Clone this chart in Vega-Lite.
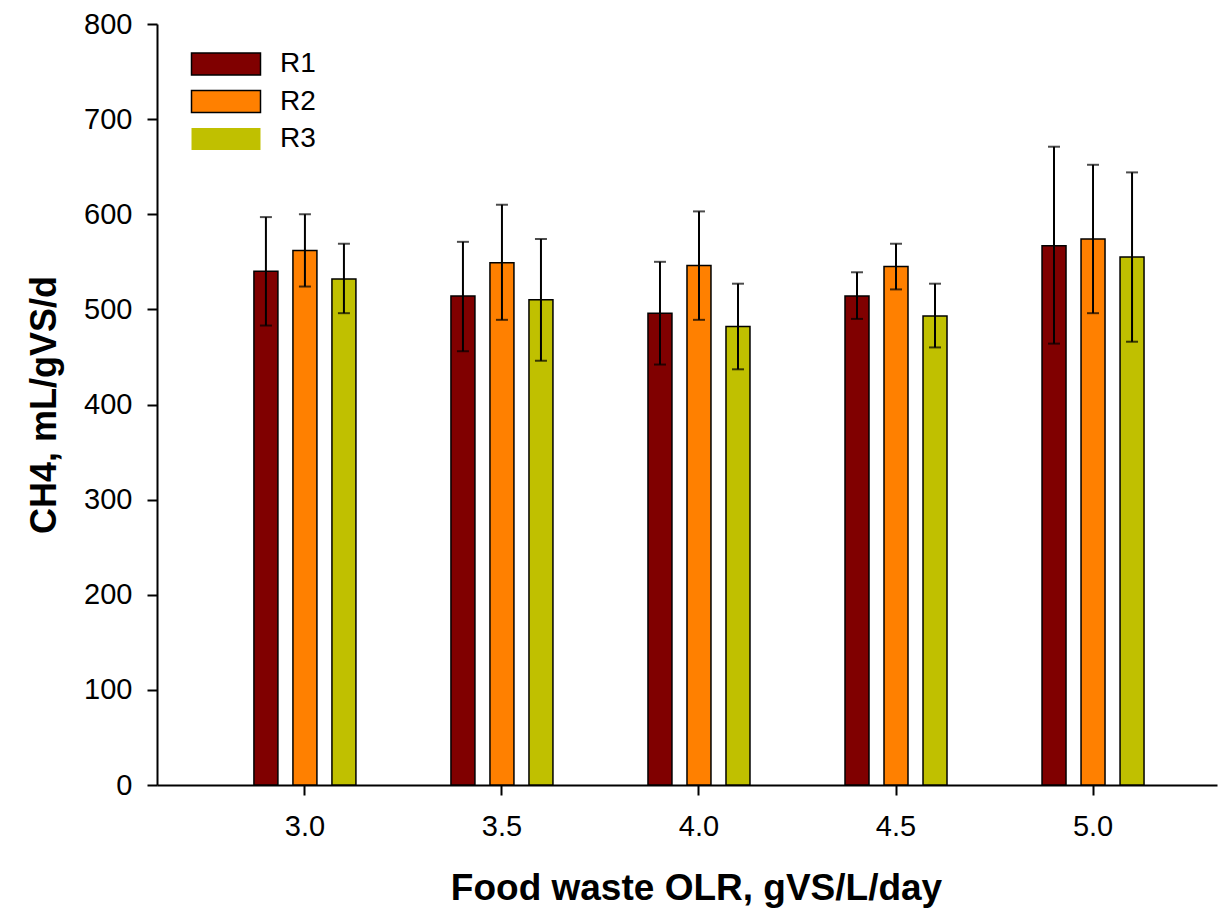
{
  "$schema": "https://vega.github.io/schema/vega-lite/v6.json",
  "width": 1060,
  "height": 761,
  "autosize": "none",
  "padding": {"left": 157, "top": 24, "right": 9, "bottom": 125},
  "background": "white",
  "config": {
    "view": {"stroke": null},
    "font": "Liberation Sans",
    "axis": {"grid": false, "domainColor": "black", "tickColor": "black", "labelColor": "black", "titleColor": "black", "labelFont": "Liberation Sans", "titleFont": "Liberation Sans"}
  },
  "data": {
    "values": [
      {"olr": "3.0", "reactor": "R1", "mean": 540, "lo": 483, "hi": 597},
      {"olr": "3.0", "reactor": "R2", "mean": 562, "lo": 524, "hi": 600},
      {"olr": "3.0", "reactor": "R3", "mean": 532, "lo": 496, "hi": 569},
      {"olr": "3.5", "reactor": "R1", "mean": 514, "lo": 456, "hi": 571},
      {"olr": "3.5", "reactor": "R2", "mean": 549, "lo": 489, "hi": 610},
      {"olr": "3.5", "reactor": "R3", "mean": 510, "lo": 446, "hi": 574},
      {"olr": "4.0", "reactor": "R1", "mean": 496, "lo": 442, "hi": 550},
      {"olr": "4.0", "reactor": "R2", "mean": 546, "lo": 489, "hi": 603},
      {"olr": "4.0", "reactor": "R3", "mean": 482, "lo": 437, "hi": 527},
      {"olr": "4.5", "reactor": "R1", "mean": 514, "lo": 490, "hi": 539},
      {"olr": "4.5", "reactor": "R2", "mean": 545, "lo": 521, "hi": 569},
      {"olr": "4.5", "reactor": "R3", "mean": 493, "lo": 460, "hi": 527},
      {"olr": "5.0", "reactor": "R1", "mean": 567, "lo": 464, "hi": 671},
      {"olr": "5.0", "reactor": "R2", "mean": 574, "lo": 496, "hi": 652},
      {"olr": "5.0", "reactor": "R3", "mean": 555, "lo": 466, "hi": 644}
    ]
  },
  "encoding": {
    "x": {
      "field": "olr", "type": "nominal",
      "scale": {"paddingInner": 0, "paddingOuter": 0.19, "align": 0.66},
      "axis": {
        "title": "Food waste OLR, gVS/L/day", "labelAngle": 0,
        "labelFontSize": 29, "titleFontSize": 37, "titleFontWeight": "bold",
        "titleX": 539, "titleAlign": "center",
        "tickSize": 10, "tickWidth": 2, "domainWidth": 2, "labelPadding": 17, "titlePadding": 29
      }
    },
    "xOffset": {
      "field": "reactor", "type": "nominal",
      "scale": {"domain": ["p0", "R1", "R2", "R3", "p4"], "paddingInner": 0.385, "paddingOuter": 0.218}
    }
  },
  "layer": [
    {
      "mark": {"type": "bar", "stroke": "black", "strokeWidth": 1.5},
      "encoding": {
        "y": {
          "field": "mean", "type": "quantitative",
          "scale": {"domain": [0, 800], "nice": false},
          "axis": {
            "title": "CH4, mL/gVS/d", "values": [0, 100, 200, 300, 400, 500, 600, 700, 800],
            "labelFontSize": 29, "titleFontSize": 36, "titleFontWeight": "bold",
            "tickSize": 10, "tickWidth": 2, "domainWidth": 2, "labelPadding": 15, "titlePadding": 20
          }
        },
        "color": {
          "field": "reactor", "type": "nominal",
          "scale": {"domain": ["R1", "R2", "R3"], "range": ["#800000", "#FF8000", "#C0C000"]},
          "legend": {
            "title": null, "orient": "none", "legendX": 51, "legendY": 22,
            "padding": 0,
            "symbolType": "M-2,-0.638H2V0.638H-2Z", "symbolSize": 1190,
            "symbolStrokeColor": "black", "symbolStrokeWidth": 1.5, "symbolOpacity": 1,
            "labelFontSize": 28, "labelFont": "Liberation Sans", "labelColor": "black", "labelOffset": 36,
            "rowPadding": 4.5,
            "encode": {"symbols": {"update": {"strokeOpacity": {"signal": "datum.value === 'R3' ? 0 : 1"}}}}
          }
        }
      }
    },
    {
      "mark": {"type": "rule", "color": "black", "strokeWidth": 2},
      "encoding": {
        "y": {"field": "lo", "type": "quantitative"},
        "y2": {"field": "hi"}
      }
    },
    {
      "mark": {"type": "tick", "color": "black", "orient": "horizontal", "size": 12, "thickness": 2},
      "encoding": {"y": {"field": "lo", "type": "quantitative"}}
    },
    {
      "mark": {"type": "tick", "color": "black", "orient": "horizontal", "size": 12, "thickness": 2},
      "encoding": {"y": {"field": "hi", "type": "quantitative"}}
    }
  ]
}
